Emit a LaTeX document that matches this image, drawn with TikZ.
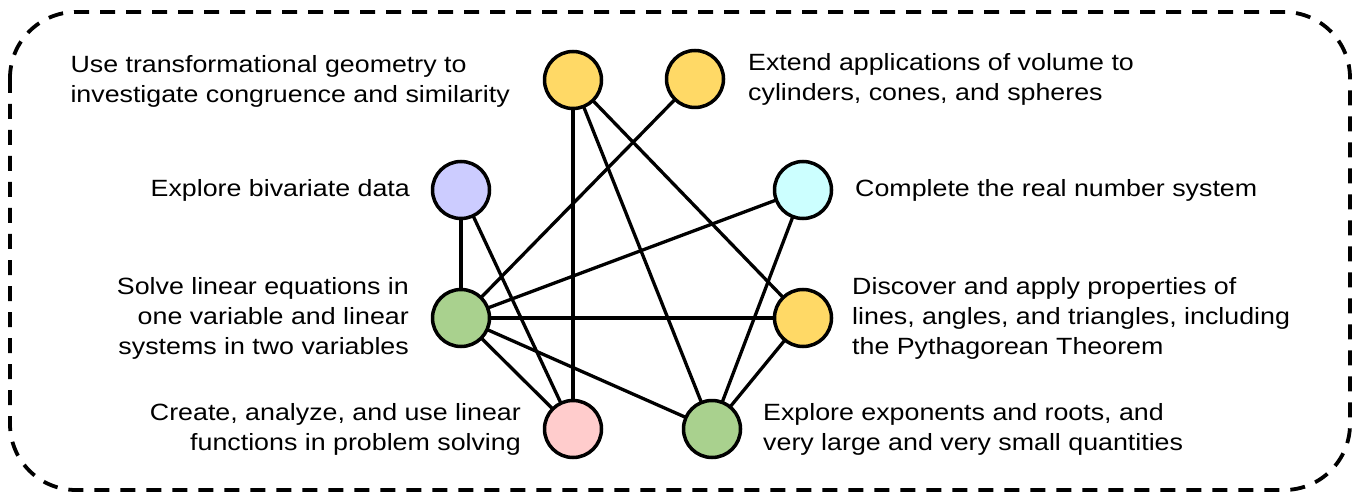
\documentclass[tikz,border=0pt]{standalone}
\usepackage{fontspec}
\setmainfont[FakeStretch=1.14]{Liberation Sans}
\pgfdeclarelayer{back}
\pgfdeclarelayer{edges}
\pgfsetlayers{back,edges,main}
\definecolor{cyellow}{HTML}{FFD966}
\definecolor{cpurple}{HTML}{CCCCFF}
\definecolor{ccyan}{HTML}{CCFFFF}
\definecolor{cgreen}{HTML}{A9D18E}
\definecolor{cpink}{HTML}{FFCCCC}
\tikzset{
  topic/.style={circle, draw=black, line width=3.5pt, minimum size=57pt, inner sep=0pt},
  lbl/.style={inner sep=0pt, font=\fontsize{23.5}{30}\selectfont},
  link/.style={draw=black, line width=3.3pt},
  frame/.style={draw=black, line width=3.8pt, dash pattern=on 15pt off 11pt, rounded corners=66pt}
}
\begin{document}
\begin{tikzpicture}[x=1pt,y=-1pt]
\begin{pgfonlayer}{back}
\fill[white] (0,0) rectangle (1356,494);
\end{pgfonlayer}
\useasboundingbox (0,0) rectangle (1356,494);
\draw[frame] (10,12) rectangle (1350,490);

\node[topic, fill=cyellow] (tl) at (573,80) {};
\node[topic, fill=cyellow] (tr) at (695,79) {};
\node[topic, fill=cpurple] (pu) at (461,190) {};
\node[topic, fill=ccyan] (cy) at (803,190) {};
\node[topic, fill=cgreen] (gl) at (461,318) {};
\node[topic, fill=cyellow] (yr) at (803,318) {};
\node[topic, fill=cpink] (pk) at (573,429) {};
\node[topic, fill=cgreen] (gb) at (712,429) {};

\node[lbl, anchor=east, align=left] (ltl) at (510,81) {Use transformational geometry to\\investigate congruence and similarity};
\node[lbl, anchor=west, align=left] (ltr) at (748,79) {Extend applications of volume to\\cylinders, cones, and spheres};
\node[lbl, anchor=east] (lpu) at (410,190) {Explore bivariate data};
\node[lbl, anchor=west] (lcy) at (855,190) {Complete the real number system};
\node[lbl, anchor=east, align=right] (lgl) at (409,318) {Solve linear equations in\\one variable and linear\\systems in two variables};
\node[lbl, anchor=west, align=left] (lyr) at (852,318) {Discover and apply properties of\\lines, angles, and triangles, including\\the Pythagorean Theorem};
\node[lbl, anchor=east, align=right] (lpk) at (521,429) {Create, analyze, and use linear\\functions in problem solving};
\node[lbl, anchor=west, align=left] (lgb) at (763,429) {Explore exponents and roots, and\\very large and very small quantities};

\begin{pgfonlayer}{edges}
\draw[link] (pu.center) -- (gl.center);
\draw[link] (pu.center) -- (pk.center);
\draw[link] (tl.center) -- (pk.center);
\draw[link] (tl.center) -- (gb.center);
\draw[link] (tl.center) -- (yr.center);
\draw[link] (tr.center) -- (gl.center);
\draw[link] (cy.center) -- (gl.center);
\draw[link] (cy.center) -- (gb.center);
\draw[link] (gl.center) -- (yr.center);
\draw[link] (gl.center) -- (pk.center);
\draw[link] (gl.center) -- (gb.center);
\draw[link] (yr.center) -- (gb.center);
\end{pgfonlayer}
\end{tikzpicture}
\end{document}
